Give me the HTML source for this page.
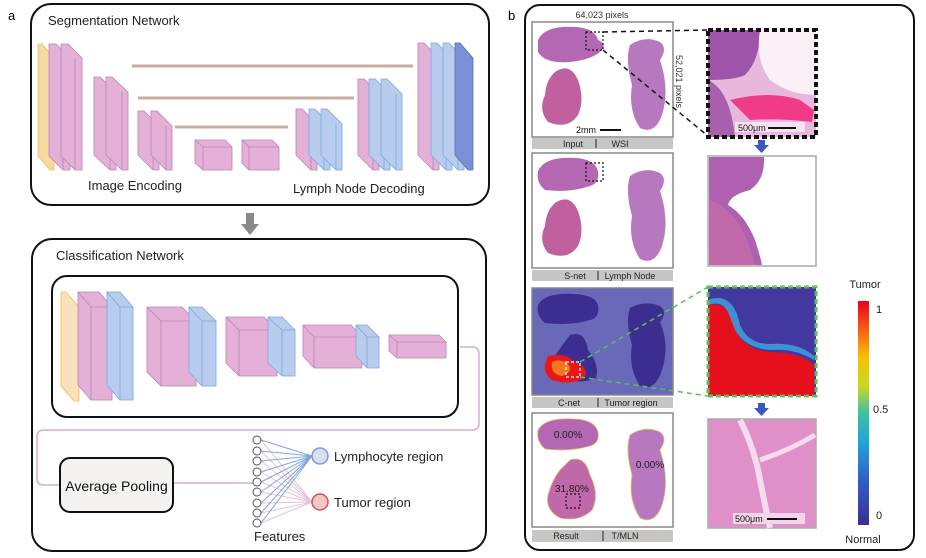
<!DOCTYPE html>
<html><head><meta charset="utf-8"><style>
body{margin:0;background:#fff}
svg{display:block;font-family:"Liberation Sans",Arial,sans-serif}
</style></head><body>
<svg width="926" height="558" viewBox="0 0 926 558" xmlns="http://www.w3.org/2000/svg">
<defs>
<linearGradient id="cb" x1="0" y1="1" x2="0" y2="0">
<stop offset="0" stop-color="#3b2e91"/><stop offset="0.2" stop-color="#3060c8"/><stop offset="0.38" stop-color="#20a8d8"/><stop offset="0.5" stop-color="#40c0a0"/><stop offset="0.62" stop-color="#c8d820"/><stop offset="0.75" stop-color="#f8c000"/><stop offset="0.87" stop-color="#f86010"/><stop offset="1" stop-color="#e8001c"/>
</linearGradient>
<radialGradient id="tis" cx="0.5" cy="0.5" r="0.6"><stop offset="0" stop-color="#b45cb0"/><stop offset="1" stop-color="#c46cb6"/></radialGradient>
<linearGradient id="hm" x1="0" y1="0" x2="1" y2="1"><stop offset="0" stop-color="#4030a0"/><stop offset="1" stop-color="#3a3898"/></linearGradient>
</defs>
<text x="8" y="20" font-size="13">a</text>
<text x="508" y="20" font-size="13">b</text>

<!-- Segmentation -->
<rect x="31" y="4" width="458" height="201" rx="20" fill="#fff" stroke="#111" stroke-width="2"/>
<text x="48" y="25" font-size="13" fill="#222">Segmentation Network</text>
<g stroke-width="3" stroke="#c9aca0"><line x1="132" y1="66" x2="413" y2="66"/><line x1="138" y1="98" x2="354" y2="98"/><line x1="175" y1="127" x2="288" y2="127"/></g>
<g stroke-width="0.8">
<!-- slab: back-left at (x-dx), front at x -->
<polygon points="38,44 42,44 54,58 54,170 50,170 38,156" fill="#f6d9a0" stroke="#e8c070"/>
<polygon points="49,44 56,44 70,58 70,170 63,170 49,156" fill="#e4b0d8" stroke="#b884b8"/>
<line x1="63" y1="58" x2="63" y2="170" stroke="#b884b8"/>
<polygon points="61,44 68,44 82,58 82,170 75,170 61,156" fill="#e4b0d8" stroke="#b884b8"/>
<line x1="75" y1="58" x2="75" y2="170" stroke="#b884b8"/>
<polygon points="94,77 100,77 116,92 116,170 110,170 94,155" fill="#e4b0d8" stroke="#b884b8"/>
<line x1="110" y1="92" x2="110" y2="170" stroke="#b884b8"/>
<polygon points="106,77 112,77 128,92 128,170 122,170 106,155" fill="#e4b0d8" stroke="#b884b8"/>
<line x1="122" y1="92" x2="122" y2="170" stroke="#b884b8"/>
<polygon points="138,111 144,111 159,126 159,170 153,170 138,155" fill="#e4b0d8" stroke="#b884b8"/>
<line x1="153" y1="126" x2="153" y2="170" stroke="#b884b8"/>
<polygon points="151,111 157,111 172,126 172,170 166,170 151,155" fill="#e4b0d8" stroke="#b884b8"/>
<line x1="166" y1="126" x2="166" y2="170" stroke="#b884b8"/>
<polygon points="195,140 225,140 232,147 232,170 203,170 195,163" fill="#e4b0d8" stroke="#b884b8"/>
<polyline points="195,140 203,147 232,147 M203,147" fill="none" stroke="#b884b8"/><line x1="203" y1="147" x2="203" y2="170" stroke="#b884b8"/>
<polygon points="242,140 272,140 279,147 279,170 249,170 242,163" fill="#e4b0d8" stroke="#b884b8"/>
<polyline points="242,140 249,147 279,147" fill="none" stroke="#b884b8"/><line x1="249" y1="147" x2="249" y2="170" stroke="#b884b8"/>
<!-- decoder A -->
<polygon points="296,109 302,109 317,124 317,170 311,170 296,155" fill="#e4b0d8" stroke="#b884b8"/>
<line x1="311" y1="124" x2="311" y2="170" stroke="#b884b8"/>
<polygon points="309,109 315,109 330,124 330,170 324,170 309,155" fill="#b8cdee" stroke="#7ea6dc"/>
<line x1="324" y1="124" x2="324" y2="170" stroke="#7ea6dc"/>
<polygon points="321,109 327,109 342,124 342,170 336,170 321,155" fill="#b8cdee" stroke="#7ea6dc"/>
<line x1="336" y1="124" x2="336" y2="170" stroke="#7ea6dc"/>
<!-- decoder B -->
<polygon points="358,79 364,79 379,94 379,170 373,170 358,155" fill="#e4b0d8" stroke="#b884b8"/>
<line x1="373" y1="94" x2="373" y2="170" stroke="#b884b8"/>
<polygon points="369,79 375,79 390,94 390,170 384,170 369,155" fill="#b8cdee" stroke="#7ea6dc"/>
<line x1="384" y1="94" x2="384" y2="170" stroke="#7ea6dc"/>
<polygon points="381,79 387,79 402,94 402,170 396,170 381,155" fill="#b8cdee" stroke="#7ea6dc"/>
<line x1="396" y1="94" x2="396" y2="170" stroke="#7ea6dc"/>
<!-- decoder C -->
<polygon points="418,43 424,43 439,58 439,170 433,170 418,155" fill="#e4b0d8" stroke="#b884b8"/>
<line x1="433" y1="58" x2="433" y2="170" stroke="#b884b8"/>
<polygon points="431,43 437,43 452,58 452,170 446,170 431,155" fill="#b8cdee" stroke="#7ea6dc"/>
<line x1="446" y1="58" x2="446" y2="170" stroke="#7ea6dc"/>
<polygon points="443,43 449,43 464,58 464,170 458,170 443,155" fill="#b8cdee" stroke="#7ea6dc"/>
<line x1="458" y1="58" x2="458" y2="170" stroke="#7ea6dc"/>
<polygon points="455,43 460,43 473,58 473,170 468,170 455,155" fill="#7d8fd4" stroke="#5a6cc0"/>
</g>
<text x="88" y="190" font-size="13" fill="#222">Image Encoding</text>
<text x="293" y="193" font-size="13" fill="#222">Lymph Node Decoding</text>

<!-- arrow -->
<rect x="246" y="213" width="8" height="12" fill="#8a8a8a"/>
<polygon points="241,224 259,224 250,235" fill="#8a8a8a"/>

<!-- Classification -->
<rect x="32" y="239" width="454" height="312" rx="20" fill="#fff" stroke="#111" stroke-width="2"/>
<text x="56" y="260" font-size="13" fill="#222">Classification Network</text>
<rect x="52" y="276" width="406" height="141" rx="15" fill="#fff" stroke="#111" stroke-width="2"/>
<g stroke-width="0.8">
<polygon points="61,292 66,292 79,307 79,401 74,401 61,386" fill="#fbe0bc" stroke="#f0c040"/>
<polygon points="78,292 99,292 112,307 112,400 91,400 78,385" fill="#e4b0d8" stroke="#b884b8"/>
<polyline points="78,292 91,307 112,307 M91,307" fill="none" stroke="#b884b8"/><line x1="91" y1="307" x2="91" y2="400" stroke="#b884b8"/>
<polygon points="107,292 120,292 133,307 133,400 120,400 107,385" fill="#b8cdee" stroke="#7ea6dc"/>
<polyline points="107,292 120,307 133,307" fill="none" stroke="#7ea6dc"/><line x1="120" y1="307" x2="120" y2="400" stroke="#7ea6dc"/>
<polygon points="147,307 182,307 196,321 196,386 161,386 147,372" fill="#e4b0d8" stroke="#b884b8"/>
<polyline points="147,307 161,321 196,321" fill="none" stroke="#b884b8"/><line x1="161" y1="321" x2="161" y2="386" stroke="#b884b8"/>
<polygon points="189,307 202,307 216,321 216,386 202,386 189,372" fill="#b8cdee" stroke="#7ea6dc"/>
<polyline points="189,307 202,321 216,321" fill="none" stroke="#7ea6dc"/><line x1="202" y1="321" x2="202" y2="386" stroke="#7ea6dc"/>
<polygon points="226,317 264,317 277,330 277,376 239,376 226,363" fill="#e4b0d8" stroke="#b884b8"/>
<polyline points="226,317 239,330 277,330" fill="none" stroke="#b884b8"/><line x1="239" y1="330" x2="239" y2="376" stroke="#b884b8"/>
<polygon points="268,317 282,317 295,330 295,376 282,376 268,363" fill="#b8cdee" stroke="#7ea6dc"/>
<polyline points="268,317 282,330 295,330" fill="none" stroke="#7ea6dc"/><line x1="282" y1="330" x2="282" y2="376" stroke="#7ea6dc"/>
<polygon points="303,325 351,325 362,337 362,368 314,368 303,356" fill="#e4b0d8" stroke="#b884b8"/>
<polyline points="303,325 314,337 362,337" fill="none" stroke="#b884b8"/><line x1="314" y1="337" x2="314" y2="368" stroke="#b884b8"/>
<polygon points="356,325 367,325 379,337 379,368 367,368 356,356" fill="#b8cdee" stroke="#7ea6dc"/>
<polyline points="356,325 367,337 379,337" fill="none" stroke="#7ea6dc"/><line x1="367" y1="337" x2="367" y2="368" stroke="#7ea6dc"/>
<polygon points="389,335 439,335 446,342 446,358 397,358 389,351" fill="#e4b0d8" stroke="#b884b8"/>
<polyline points="389,335 397,342 446,342" fill="none" stroke="#b884b8"/><line x1="397" y1="342" x2="397" y2="358" stroke="#b884b8"/>
</g>
<path d="M460,347 H472 Q479,347 479,354 V423 Q479,430 472,430 H44 Q37,430 37,437 V478 Q37,485 44,485 H60" fill="none" stroke="#d8a8d8" stroke-width="1.5"/>
<line x1="173" y1="483" x2="253" y2="483" stroke="#d8a8d8" stroke-width="1.5"/>
<rect x="60" y="458" width="113" height="54" rx="10" fill="#f4f3f1" stroke="#111" stroke-width="2"/>
<text x="116.5" y="491" font-size="14" text-anchor="middle" fill="#111">Average Pooling</text>
<g stroke-width="1">
<g stroke="#e8c0d8">
<line x1="261" y1="440" x2="312" y2="502"/><line x1="261" y1="451" x2="312" y2="502"/><line x1="261" y1="461" x2="312" y2="502"/><line x1="261" y1="472" x2="312" y2="502"/><line x1="261" y1="482" x2="312" y2="502"/><line x1="261" y1="492" x2="312" y2="502"/><line x1="261" y1="503" x2="312" y2="502"/><line x1="261" y1="513" x2="312" y2="502"/><line x1="261" y1="523" x2="312" y2="502"/>
</g>
<g stroke="#7ea6dc">
<line x1="261" y1="440" x2="312" y2="456"/><line x1="261" y1="451" x2="312" y2="456"/><line x1="261" y1="461" x2="312" y2="456"/><line x1="261" y1="472" x2="312" y2="456"/><line x1="261" y1="482" x2="312" y2="456"/><line x1="261" y1="492" x2="312" y2="456"/><line x1="261" y1="503" x2="312" y2="456"/><line x1="261" y1="513" x2="312" y2="456"/><line x1="261" y1="523" x2="312" y2="456"/>
</g>
<g fill="#fff" stroke="#555"><circle cx="257" cy="440" r="4"/><circle cx="257" cy="451" r="4"/><circle cx="257" cy="461" r="4"/><circle cx="257" cy="472" r="4"/><circle cx="257" cy="482" r="4"/><circle cx="257" cy="492" r="4"/><circle cx="257" cy="503" r="4"/><circle cx="257" cy="513" r="4"/><circle cx="257" cy="523" r="4"/></g>
</g>
<circle cx="320" cy="456" r="8" fill="#d8e0f2" stroke="#7a9bd4" stroke-width="1.5"/>
<circle cx="320" cy="502" r="8" fill="#f2c6c6" stroke="#cc5555" stroke-width="1.5"/>
<text x="334" y="461" font-size="13" fill="#222">Lymphocyte region</text>
<text x="334" y="507" font-size="13" fill="#222">Tumor region</text>
<text x="254" y="541" font-size="13" fill="#222">Features</text>

<!-- Panel b -->
<rect x="525" y="5" width="389" height="545" rx="15" fill="#fff" stroke="#111" stroke-width="2"/>
<text x="602" y="18" font-size="9" text-anchor="middle" fill="#333">64,023 pixels</text>
<text x="0" y="0" font-size="9" fill="#333" transform="translate(676,55) rotate(90)">52,021 pixels</text>

<!-- WSI panels -->
<g id="p1">
<rect x="532" y="22" width="141" height="115" fill="#fff" stroke="#888" stroke-width="1.5"/>
<path d="M538,40 Q545,25 575,27 Q595,28 598,40 Q608,44 600,52 Q590,60 570,62 Q545,64 538,52 Z" fill="#b468b4"/>
<path d="M555,72 Q570,62 578,80 Q585,100 578,115 Q568,130 548,122 Q538,110 545,95 Q546,80 555,72Z" fill="#c0609e"/>
<path d="M630,45 Q645,35 660,42 Q668,48 660,60 Q670,90 662,115 Q655,135 640,128 Q628,110 632,85 Q625,60 630,45Z" fill="#b878c0"/>
</g>
<rect x="532" y="138" width="141" height="11" fill="#c8c6c5"/>
<text x="573" y="147" font-size="9" text-anchor="middle" fill="#222">Input</text>
<line x1="596" y1="139" x2="596" y2="148" stroke="#222"/>
<text x="620" y="147" font-size="9" text-anchor="middle" fill="#222">WSI</text>
<line x1="600" y1="130" x2="621" y2="130" stroke="#111" stroke-width="2"/>
<text x="576" y="133" font-size="9" fill="#111">2mm</text>
<rect x="586" y="32" width="17" height="18" fill="none" stroke="#111" stroke-dasharray="2,2" stroke-width="1.2"/>
<line x1="603" y1="32" x2="708" y2="30" stroke="#111" stroke-dasharray="5,4" stroke-width="1.5"/>
<line x1="603" y1="50" x2="708" y2="136" stroke="#111" stroke-dasharray="5,4" stroke-width="1.5"/>

<rect x="532" y="153" width="141" height="115" fill="#fff" stroke="#888" stroke-width="1.5"/>
<path d="M538,171 Q545,156 575,158 Q595,159 598,171 Q600,183 590,186 Q570,193 545,190 Q536,183 538,171Z" fill="#b468b4"/>
<path d="M555,203 Q570,193 578,211 Q585,231 578,246 Q568,261 548,253 Q538,241 545,226 Q546,211 555,203Z" fill="#c0609e"/>
<path d="M630,176 Q645,166 660,173 Q668,179 660,191 Q670,221 662,246 Q655,266 640,259 Q628,241 632,216 Q625,191 630,176Z" fill="#b878c0"/>
<rect x="586" y="163" width="17" height="18" fill="none" stroke="#111" stroke-dasharray="2,2" stroke-width="1.2"/>
<rect x="532" y="270" width="141" height="11" fill="#c8c6c5"/>
<text x="575" y="279" font-size="9" text-anchor="middle" fill="#222">S-net</text>
<line x1="598" y1="271" x2="598" y2="280" stroke="#222"/>
<text x="630" y="279" font-size="9" text-anchor="middle" fill="#222">Lymph Node</text>

<rect x="532" y="288" width="141" height="107" fill="#6a68b8" stroke="#888" stroke-width="1.5"/>
<path d="M538,305 Q545,292 575,294 Q595,295 598,305 Q600,318 590,320 Q570,326 545,323 Q536,316 538,305Z" fill="#3c2e90"/>
<path d="M570,335 Q585,330 588,350 Q600,365 596,378 Q580,385 560,378 Q545,372 552,360 Q560,348 570,335Z" fill="#3c2e90"/>
<path d="M548,356 Q565,352 575,362 Q590,368 584,378 Q570,386 552,380 Q540,372 548,356Z" fill="#e81818"/>
<path d="M552,362 Q560,358 568,364 Q574,372 562,376 Q550,374 552,362Z" fill="#f8a020" opacity="0.7"/>
<path d="M630,308 Q645,300 660,306 Q668,312 660,322 Q670,345 662,370 Q655,392 640,386 Q628,368 632,345 Q625,322 630,308Z" fill="#3c2e90"/>
<rect x="566" y="362" width="14" height="15" fill="none" stroke="#fff" stroke-dasharray="3,2" stroke-width="1.2"/>
<line x1="580" y1="362" x2="708" y2="287" stroke="#5cc050" stroke-dasharray="5,4" stroke-width="1.5"/>
<line x1="580" y1="377" x2="708" y2="396" stroke="#5cc050" stroke-dasharray="5,4" stroke-width="1.5"/>
<rect x="532" y="397" width="141" height="11" fill="#c8c6c5"/>
<text x="569" y="406" font-size="9" text-anchor="middle" fill="#222">C-net</text>
<line x1="598" y1="398" x2="598" y2="407" stroke="#222"/>
<text x="631" y="406" font-size="9" text-anchor="middle" fill="#222">Tumor region</text>

<rect x="532" y="413" width="141" height="114" fill="#fff" stroke="#888" stroke-width="1.5"/>
<path d="M538,430 Q545,417 575,419 Q595,420 598,432 Q600,443 590,446 Q570,452 545,449 Q536,441 538,430Z" fill="#b468b4" stroke="#e8c060" stroke-width="0.8"/>
<path d="M570,460 Q585,455 590,475 Q600,495 592,510 Q580,522 560,518 Q545,510 548,495 Q552,480 560,470 Z" fill="#c068aa" stroke="#e8c060" stroke-width="0.8"/>
<path d="M630,435 Q645,425 660,432 Q668,438 660,450 Q670,480 662,505 Q655,525 640,518 Q628,500 632,475 Q625,450 630,435Z" fill="#b878c0" stroke="#e8c060" stroke-width="0.8"/>
<text x="568" y="438" font-size="10" text-anchor="middle" fill="#222">0.00%</text>
<text x="650" y="468" font-size="10" text-anchor="middle" fill="#222">0.00%</text>
<text x="572" y="492" font-size="10" text-anchor="middle" fill="#222">31.80%</text>
<rect x="566" y="494" width="14" height="14" fill="none" stroke="#111" stroke-dasharray="2,2" stroke-width="1.2"/>
<rect x="532" y="530" width="141" height="12" fill="#c8c6c5"/>
<text x="566" y="539" font-size="9" text-anchor="middle" fill="#222">Result</text>
<line x1="603" y1="531" x2="603" y2="541" stroke="#222"/>
<text x="625" y="539" font-size="9" text-anchor="middle" fill="#222">T/MLN</text>

<!-- right crops -->
<rect x="708" y="30" width="108" height="107" fill="#e8b8dc"/>
<path d="M708,30 H760 Q760,60 745,75 Q735,80 708,80Z" fill="#9e54a8"/>
<path d="M708,80 Q730,90 735,137 H708Z" fill="#a860ac"/>
<path d="M730,100 Q770,90 800,100 L814,110 L812,122 Q780,118 750,120Z" fill="#f03c88"/>
<path d="M760,30 H816 V95 Q790,95 770,80 Q755,60 760,30Z" fill="#fbf0f6"/>
<rect x="708" y="30" width="108" height="107" fill="none" stroke="#111" stroke-width="4" stroke-dasharray="5,3"/>
<rect x="735" y="122" width="70" height="10" fill="#fff" opacity="0.6"/>
<text x="738" y="131" font-size="9" fill="#111">500μm</text>
<line x1="768" y1="128" x2="796" y2="128" stroke="#111" stroke-width="2"/>

<rect x="758" y="140" width="7" height="6" fill="#3a58c0"/><polygon points="754,145 769,145 761.5,153" fill="#3a58c0"/>

<rect x="708" y="156" width="108" height="110" fill="#fff" stroke="#aaa" stroke-width="1.5"/>
<path d="M709,157 H764 Q765,180 750,190 Q730,195 728,205 Q745,215 755,240 Q760,255 762,265 H709Z" fill="#b060b0"/>
<path d="M709,200 Q725,205 740,225 Q750,245 755,265 H709Z" fill="#c06aac"/>

<rect x="708" y="287" width="108" height="109" fill="#4238a0"/>
<path d="M708,305 Q730,300 735,330 Q745,350 770,352 Q800,352 814,365 V396 H708Z" fill="#e6101c"/>
<path d="M708,305 Q722,300 728,312 L735,330 Q745,348 770,350 Q795,348 814,360 V356 Q798,342 770,344 Q748,344 740,325 Q735,300 720,298 Q712,298 708,300Z" fill="#40a8e0" opacity="0.8"/>
<rect x="708" y="287" width="108" height="109" fill="none" stroke="#5cc050" stroke-width="3" stroke-dasharray="5,3"/>

<rect x="758" y="403" width="7" height="6" fill="#3a58c0"/><polygon points="754,408 769,408 761.5,416" fill="#3a58c0"/>

<rect x="708" y="419" width="108" height="109" fill="#e090c8" stroke="#aaa" stroke-width="1.5"/>
<path d="M740,420 Q755,450 760,480 Q765,505 770,528" stroke="#f4dcee" stroke-width="6" fill="none"/>
<path d="M760,460 Q790,450 815,435" stroke="#f4dcee" stroke-width="5" fill="none"/>
<rect x="733" y="513" width="72" height="11" fill="#f4d4ea"/>
<text x="735" y="522" font-size="9" fill="#111">500μm</text>
<line x1="767" y1="519" x2="797" y2="519" stroke="#111" stroke-width="2"/>

<!-- colorbar -->
<text x="865" y="288" font-size="11" text-anchor="middle" fill="#222">Tumor</text>
<rect x="858" y="301" width="11" height="224" fill="url(#cb)"/>
<text x="876" y="313" font-size="11" fill="#222">1</text>
<text x="873" y="413" font-size="11" fill="#222">0.5</text>
<text x="876" y="519" font-size="11" fill="#222">0</text>
<text x="863" y="543" font-size="11" text-anchor="middle" fill="#222">Normal</text>
</svg>
</body></html>
